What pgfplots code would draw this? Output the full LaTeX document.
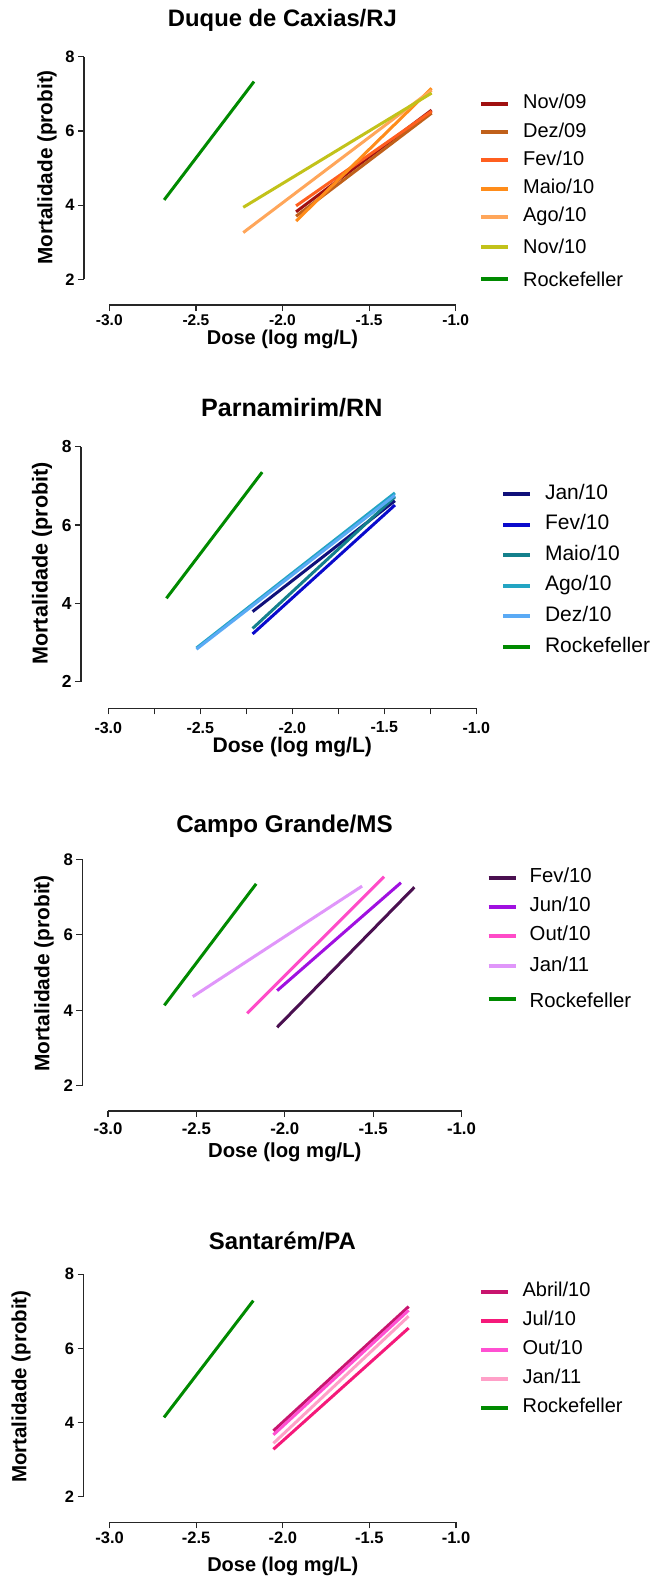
\documentclass[border=0pt]{standalone}
\usepackage{fontspec}
\setmainfont{Liberation Sans}
\usepackage{pgfplots}
\pgfplotsset{compat=1.18}

\definecolor{rock}{HTML}{008A00}
\definecolor{aNovA}{HTML}{A01010}
\definecolor{aDezA}{HTML}{C0601A}
\definecolor{aFevB}{HTML}{FF5F1F}
\definecolor{aMaiB}{HTML}{FF8C1A}
\definecolor{aAgoB}{HTML}{FFA65A}
\definecolor{aNovB}{HTML}{C2C21A}
\definecolor{bJan}{HTML}{10107A}
\definecolor{bFev}{HTML}{0A0ACC}
\definecolor{bMai}{HTML}{14808C}
\definecolor{bAgo}{HTML}{23A5C3}
\definecolor{bDez}{HTML}{5AAAF5}
\definecolor{cFev}{HTML}{4A1050}
\definecolor{cJun}{HTML}{A010E0}
\definecolor{cOut}{HTML}{FF4BC8}
\definecolor{cJan}{HTML}{E096FA}
\definecolor{dAbr}{HTML}{C8146E}
\definecolor{dJul}{HTML}{F5197A}
\definecolor{dOut}{HTML}{FF50D2}
\definecolor{dJan}{HTML}{FFA0C8}

\newcommand{\bff}[1]{\bfseries\fontsize{#1}{#1}\selectfont}
\newcommand{\rgf}[1]{\fontsize{#1}{#1}\selectfont}

\pgfplotsset{
  dataaxis/.style={
    scale only axis, anchor=south west,
    axis x line=none, axis y line*=left,
    xmin=-3.147, xmax=-1, ymin=2, ymax=8,
    xtick=\empty, ytick={2,4,6,8}, yticklabels={2,4,6,8},
    tick align=outside, major tick length=6pt,
    axis line style={line width=1.2pt, black!85},
    every tick/.style={line width=1.2pt, black!85},
    clip=false,
    legend cell align=left,
    legend image code/.code={\draw[##1,line width=4pt] (0pt,0pt) -- (27pt,0pt);},
  },
  xonly/.style={
    scale only axis, anchor=south west, height=5pt,
    axis y line=none, axis x line*=bottom,
    xmin=-3, xmax=-1, ymin=0, ymax=1, ytick=\empty,
    xtick={-3,-2.5,-2,-1.5,-1}, xticklabels={-3.0,-2.5,-2.0,-1.5,-1.0},
    tick align=outside, major tick length=6pt, minor tick length=6pt,
    axis line style={line width=1.2pt, black!85},
    every tick/.style={line width=1.2pt, black!85},
  },
  ln/.style={line width=3pt},
  leg/.style n args={5}{legend style={draw=none, fill=none,
    at={(axis description cs:#1,#2)}, anchor=north west,
    inner sep=0pt, outer sep=0pt, row sep=#3, column sep=#4,
    font=\rgf{#5}, nodes={inner sep=0pt, text height=14pt, text depth=4pt}}},
}

\begin{document}
\begin{tikzpicture}
\path[use as bounding box] (0pt,0pt) rectangle (655pt,-1579pt);

% ================= Panel 1 =================
\node[font=\bff{23.8}] at (282.4pt,-20pt) {Duque de Caxias/RJ};
\node[font=\bff{20.75}, rotate=90] at (47pt,-167.5pt) {Mortalidade (probit)};
\node[font=\bff{20}] at (282.5pt,-339.5pt) {Dose (log mg/L)};
\begin{axis}[dataaxis, at={(84pt,-279.3pt)}, width=371.7pt, height=222.6pt,
  yticklabel style={font=\bff{16.5}},
  leg={1.063}{0.829}{10.3pt}{13pt}{20}]
\addplot[ln, aNovA] coordinates {(-1.922,3.82) (-1.139,6.56)};
\addlegendentry{Nov/09}
\addplot[ln, aDezA] coordinates {(-1.922,3.70) (-1.139,6.48)};
\addlegendentry{Dez/09}
\addplot[ln, aFevB] coordinates {(-1.922,3.98) (-1.139,6.53)};
\addlegendentry{Fev/10}
\addplot[ln, aMaiB] coordinates {(-1.922,3.57) (-1.139,7.15)};
\addlegendentry{Maio/10}
\addplot[ln, aAgoB] coordinates {(-2.227,3.26) (-1.139,7.10)};
\addlegendentry{Ago/10}
\addplot[ln, aNovB] coordinates {(-2.227,3.94) (-1.139,7.02)};
\addlegendentry[text height=17.5pt]{Nov/10}
\addplot[ln, rock] coordinates {(-2.684,4.14) (-2.165,7.33)};
\addlegendentry[text height=18.3pt]{Rockefeller}
\end{axis}
\begin{axis}[xonly, at={(109.3pt,-305pt)}, width=346.4pt,
  xticklabel style={font=\bff{15.5}, yshift=-0.5pt}]
\end{axis}

% ================= Panel 2 =================
\node[font=\bff{25.1}] at (291.8pt,-408pt) {Parnamirim/RN};
\node[font=\bff{21.6}, rotate=90] at (42pt,-563.3pt) {Mortalidade (probit)};
\node[font=\bff{21.1}] at (292.3pt,-747pt) {Dose (log mg/L)};
\begin{axis}[dataaxis, at={(81pt,-681.7pt)}, width=395.3pt, height=235pt,
  yticklabel style={font=\bff{17.4}},
  leg={1.0625}{0.837}{12.6pt}{13pt}{21}]
\addplot[ln, bJan] coordinates {(-2.215,3.79) (-1.442,6.62)};
\addlegendentry{Jan/10}
\addplot[ln, bFev] coordinates {(-2.215,3.22) (-1.442,6.51)};
\addlegendentry{Fev/10}
\addplot[ln, bMai] coordinates {(-2.215,3.36) (-1.442,6.72)};
\addlegendentry{Maio/10}
\addplot[ln, bAgo] coordinates {(-2.520,2.86) (-1.442,6.82)};
\addlegendentry{Ago/10}
\addplot[ln, bDez] coordinates {(-2.520,2.83) (-1.442,6.76)};
\addlegendentry{Dez/10}
\addplot[ln, rock] coordinates {(-2.683,4.13) (-2.163,7.35)};
\addlegendentry{Rockefeller}
\end{axis}
\begin{axis}[xonly, at={(108.3pt,-708.3pt)}, width=368pt,
  minor xtick={-2.75,-2.25,-1.75,-1.25},
  xticklabel style={font=\bff{16}, yshift=-4pt}]
\end{axis}

% ================= Panel 3 =================
\node[font=\bff{24.2}] at (284.5pt,-826pt) {Campo Grande/MS};
\node[font=\bff{20.9}, rotate=90] at (44pt,-973.3pt) {Mortalidade (probit)};
\node[font=\bff{20.3}] at (284.8pt,-1152pt) {Dose (log mg/L)};
\begin{axis}[dataaxis, at={(82.4pt,-1085.7pt)}, width=379.1pt, height=226.4pt,
  yticklabel style={font=\bff{16.8}},
  leg={1.0665}{0.958}{11pt}{12pt}{20.3}]
\addplot[ln, cFev] coordinates {(-2.044,3.55) (-1.267,7.26)};
\addlegendentry{Fev/10}
\addplot[ln, cJun] coordinates {(-2.044,4.52) (-1.343,7.38)};
\addlegendentry{Jun/10}
\addplot[ln, cOut] coordinates {(-2.214,3.92) (-1.438,7.54)};
\addlegendentry{Out/10}
\addplot[ln, cJan] coordinates {(-2.522,4.36) (-1.563,7.29)};
\addlegendentry[text height=16pt]{Jan/11}
\addplot[ln, rock] coordinates {(-2.683,4.13) (-2.163,7.35)};
\addlegendentry[text height=21pt]{Rockefeller}
\end{axis}
\begin{axis}[xonly, at={(108pt,-1111pt)}, width=353.5pt,
  xticklabel style={font=\bff{16.8}, yshift=-2pt}]
\end{axis}

% ================= Panel 4 =================
\node[font=\bff{23.9}] at (282.4pt,-1241pt) {Santarém/PA};
\node[font=\bff{20.5}, rotate=90] at (21pt,-1386.7pt) {Mortalidade (probit)};
\node[font=\bff{20}] at (282.8pt,-1566pt) {Dose (log mg/L)};
\begin{axis}[dataaxis, at={(83.7pt,-1496.7pt)}, width=372.3pt, height=222.4pt,
  yticklabel style={font=\bff{16.5}},
  leg={1.062}{0.961}{10.9pt}{12.5pt}{20}]
\addplot[ln, dAbr] coordinates {(-2.053,3.78) (-1.273,7.13)};
\addlegendentry{Abril/10}
\addplot[ln, dJul] coordinates {(-2.053,3.28) (-1.273,6.55)};
\addlegendentry{Jul/10}
\addplot[ln, dOut] coordinates {(-2.053,3.67) (-1.273,7.03)};
\addlegendentry{Out/10}
\addplot[ln, dJan] coordinates {(-2.053,3.44) (-1.273,6.87)};
\addlegendentry{Jan/11}
\addplot[ln, rock] coordinates {(-2.684,4.14) (-2.169,7.29)};
\addlegendentry{Rockefeller}
\end{axis}
\begin{axis}[xonly, at={(109.6pt,-1522.3pt)}, width=346.4pt,
  xticklabel style={font=\bff{16.5}}]
\end{axis}

\end{tikzpicture}
\end{document}
